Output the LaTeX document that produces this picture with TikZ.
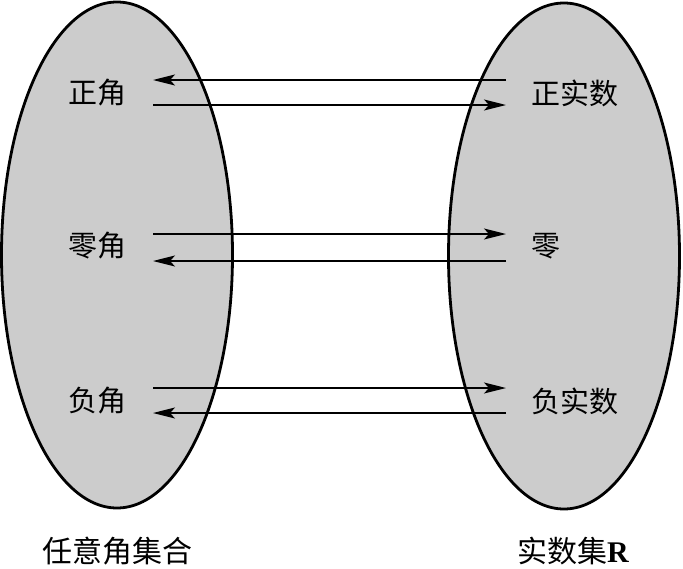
\documentclass[tikz,border=0pt]{standalone}
\usepackage{fontspec}
\setmainfont{Liberation Serif}
\newfontfamily\cjk{Noto Sans CJK SC}
\usetikzlibrary{arrows.meta,shapes.geometric}

\begin{document}
\begin{tikzpicture}[x=1pt,y=-1pt,>={Stealth[length=22pt,width=11pt,inset=5pt]},
 set/.style={draw,ellipse,line width=2.8pt,fill=black!20,inner sep=0pt,minimum width=231pt,minimum height=506pt},
 lab/.style={font=\cjk\fontsize{29}{32}\selectfont,inner sep=0pt},
 line/.style={->,line width=1.7pt}]
\useasboundingbox (0,0) rectangle (683,568);
\node[set] (angles) at (117,255) {};
\node[set] (reals) at (564,256) {};
% left labels
\node[lab] (pos) at (97,93) {正角};
\node[lab] (zero) at (97,246) {零角};
\node[lab] (neg) at (97,401) {负角};
% right labels
\node[lab,anchor=west] (rpos) at (531,93) {正实数};
\node[lab,anchor=west] (rzero) at (531,246) {零};
\node[lab,anchor=west] (rneg) at (531,401) {负实数};
% arrow ends
\coordinate (a1) at (153,80);  \coordinate (b1) at (506,80);
\coordinate (a2) at (153,105); \coordinate (b2) at (506,105);
\coordinate (a3) at (153,234); \coordinate (b3) at (506,234);
\coordinate (a4) at (153,261); \coordinate (b4) at (506,261);
\coordinate (a5) at (153,388); \coordinate (b5) at (506,388);
\coordinate (a6) at (153,413); \coordinate (b6) at (506,413);
\draw[line] (b1)--(a1);\draw[line] (a2)--(b2);
\draw[line] (a3)--(b3);\draw[line] (b4)--(a4);
\draw[line] (a5)--(b5);\draw[line] (b6)--(a6);
% set names
\node[lab,font=\cjk\fontsize{30}{32}\selectfont] (aname) at (117,551) {任意角集合};
\node[lab,font=\cjk\fontsize{30}{32}\selectfont] (rname) at (573,551) {实数集\fontspec{Liberation Serif}\bfseries R};
\end{tikzpicture}
\end{document}
